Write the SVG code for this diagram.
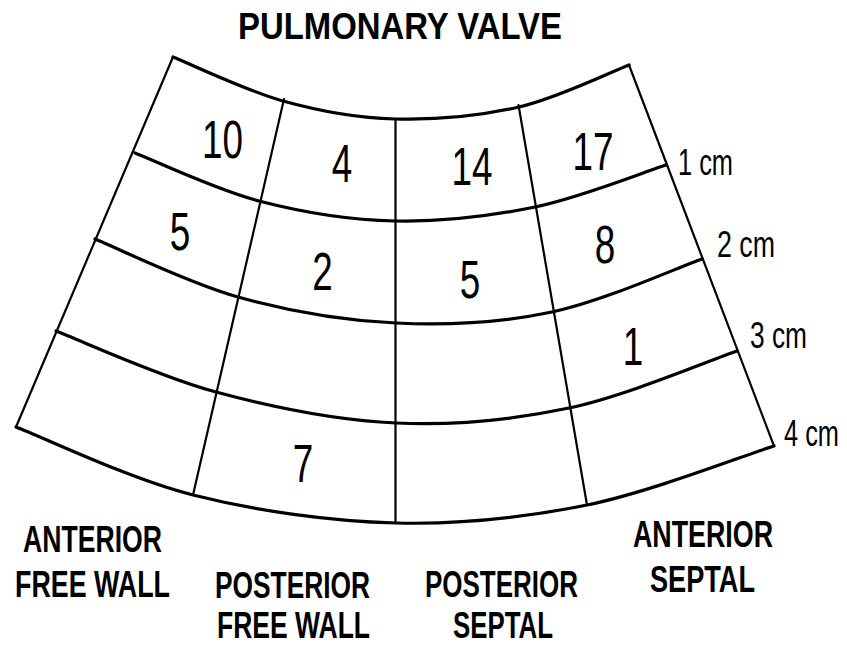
<svg xmlns="http://www.w3.org/2000/svg" width="847" height="647" viewBox="0 0 847 647">
<style>
.arc{fill:none;stroke:#000;stroke-width:3.2;stroke-linecap:round;stroke-linejoin:round}
.rad{fill:none;stroke:#000;stroke-width:2.2;stroke-linecap:round}
.num{font-family:"Liberation Sans",Arial,sans-serif;font-size:53px;fill:#000;text-anchor:middle}
.cm{font-family:"Liberation Sans",Arial,sans-serif;font-size:36px;fill:#000}
.lab{font-family:"Liberation Sans",Arial,sans-serif;font-size:36px;font-weight:bold;fill:#000}
</style>
<rect width="847" height="647" fill="#fff"/>
<g id="title">
<text class="lab" x="238" y="39" font-size="35" textLength="324" lengthAdjust="spacingAndGlyphs">PULMONARY VALVE</text>
</g>
<g id="grid">
<g id="arcs">
<path class="arc" d="M173,57 C191.3,64.3 246,90.7 283,101 C320,111.3 355.7,118 395,119 C434.3,120 480,116 519,107 C558,98 610.7,72 629,65"/>
<path class="arc" d="M135,153 C155.7,161 215.7,189.7 259,201 C302.3,212.3 349,220 395,221 C441,222 489.8,216.3 535,207 C580.2,197.7 644.2,172 666,165"/>
<path class="arc" d="M95,239 C118.8,248.7 187.8,283 238,297 C288.2,311 343.7,320.5 396,323 C448.3,325.5 501,322.7 552,312 C603,301.3 677,267.8 702,259"/>
<path class="arc" d="M56,331 C82.7,341.2 159.3,376.7 216,392 C272.7,407.3 337.2,420.3 396,423 C454.8,425.7 512.2,420 569,408 C625.8,396 709,360.5 737,351"/>
<path class="arc" d="M16,427 C45.5,438.3 129.7,479 193,495 C256.3,511 330.3,521.3 396,523 C461.7,524.7 524,517.8 587,505 C650,492.2 742.8,455.8 774,446"/>
</g>
<g id="radials">
<line class="rad" x1="173" y1="57" x2="16" y2="427"/>
<line class="rad" x1="284" y1="99" x2="193" y2="495"/>
<line class="rad" x1="395.5" y1="119" x2="395.5" y2="523"/>
<line class="rad" x1="518.5" y1="105" x2="587" y2="505"/>
<line class="rad" x1="629" y1="65" x2="774" y2="446"/>
</g>
</g>
<g id="counts">
<text class="num" x="222.5" y="158" textLength="41" lengthAdjust="spacingAndGlyphs">10</text>
<text class="num" x="342" y="182" textLength="20.5" lengthAdjust="spacingAndGlyphs">4</text>
<text class="num" x="472" y="185" textLength="41" lengthAdjust="spacingAndGlyphs">14</text>
<text class="num" x="593" y="170" textLength="41" lengthAdjust="spacingAndGlyphs">17</text>
<text class="num" x="180" y="250" textLength="20.5" lengthAdjust="spacingAndGlyphs">5</text>
<text class="num" x="322.5" y="290" textLength="20.5" lengthAdjust="spacingAndGlyphs">2</text>
<text class="num" x="470" y="298" textLength="20.5" lengthAdjust="spacingAndGlyphs">5</text>
<text class="num" x="605" y="263" textLength="20.5" lengthAdjust="spacingAndGlyphs">8</text>
<text class="num" x="633" y="365" textLength="20.5" lengthAdjust="spacingAndGlyphs">1</text>
<text class="num" x="303" y="482" textLength="20.5" lengthAdjust="spacingAndGlyphs">7</text>
</g>
<g id="depths">
<text class="cm" x="678" y="175" textLength="55" lengthAdjust="spacingAndGlyphs">1 cm</text>
<text class="cm" x="717" y="257" textLength="58" lengthAdjust="spacingAndGlyphs">2 cm</text>
<text class="cm" x="750" y="348" textLength="57" lengthAdjust="spacingAndGlyphs">3 cm</text>
<text class="cm" transform="matrix(0.705,0,0,1,784,446)" x="0" y="0">4 cm</text>
</g>
<g id="walls">
<text class="lab" x="23" y="552" textLength="139" lengthAdjust="spacingAndGlyphs">ANTERIOR</text>
<text class="lab" x="15" y="597" textLength="155" lengthAdjust="spacingAndGlyphs">FREE WALL</text>
<text class="lab" x="215" y="598" textLength="155" lengthAdjust="spacingAndGlyphs">POSTERIOR</text>
<text class="lab" x="217" y="638" textLength="153" lengthAdjust="spacingAndGlyphs">FREE WALL</text>
<text class="lab" x="425" y="597" textLength="153" lengthAdjust="spacingAndGlyphs">POSTERIOR</text>
<text class="lab" x="453" y="638" textLength="100" lengthAdjust="spacingAndGlyphs">SEPTAL</text>
<text class="lab" x="633" y="547" textLength="140" lengthAdjust="spacingAndGlyphs">ANTERIOR</text>
<text class="lab" x="650" y="592" textLength="105" lengthAdjust="spacingAndGlyphs">SEPTAL</text>
</g>
</svg>
